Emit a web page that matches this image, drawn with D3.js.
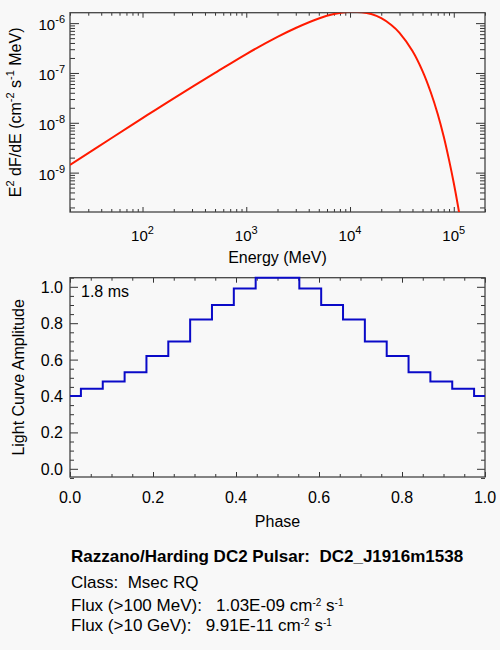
<!DOCTYPE html>
<html lang="en">
<head>
<meta charset="utf-8">
<title>DC2 pulsar</title>
<script src="https://cdn.jsdelivr.net/npm/d3@7"></script>
<style>
  body { margin: 0; padding: 0; background: #f8f8f8; }
  svg { display: block; font-family: "Liberation Sans", Arial, Helvetica, sans-serif; fill: #000; }
  .frame { fill: none; stroke: #444; stroke-width: 1.3; }
  .tick line { stroke: #333; stroke-width: 1; }
  .domain { display: none; }
</style>
</head>
<body>
<svg id="chart" width="500" height="650"></svg>
<script>
// spectrum: E^2 dF/dE (cm^-2 s^-1 MeV)
var energy = [20, 50, 100, 200, 500, 1000, 2000, 3000, 5000, 7000, 10000, 13000, 16000,
              20000, 25000, 30000, 40000, 50000, 60000, 70000, 80000, 90000, 100000, 110000, 120000];
var e2dfde = [1.42e-9, 4.9e-9, 1.24e-8, 3.1e-8, 1.0e-7, 2.4e-7, 5.3e-7, 8.0e-7, 1.24e-6, 1.52e-6, 1.69e-6, 1.66e-6, 1.52e-6,
              1.26e-6, 9.2e-7, 6.4e-7, 2.75e-7, 1.09e-7, 4.1e-8, 1.5e-8, 5.3e-9, 1.8e-9, 6.2e-10, 2.1e-10, 7e-11];

// light curve (histogram, 20 phase bins)
var phase = [0, 0.0526, 0.1053, 0.1579, 0.2105, 0.2632, 0.3158, 0.3684, 0.4211, 0.4737,
             0.5263, 0.5789, 0.6316, 0.6842, 0.7368, 0.7895, 0.8421, 0.8947, 0.9474, 1];
var amplitude = [0.40, 0.44, 0.48, 0.53, 0.62, 0.70, 0.82, 0.90, 0.99, 1.05,
                 1.05, 0.99, 0.90, 0.82, 0.70, 0.62, 0.53, 0.48, 0.44, 0.40];

// tick labels
var energyTicks = [1e2, 1e3, 1e4, 1e5];
var fluxTicks = [1e-9, 1e-8, 1e-7, 1e-6];
var phaseTicks = [0, 0.2, 0.4, 0.6, 0.8, 1.0];
var ampTicks = [0, 0.2, 0.4, 0.6, 0.8, 1.0];
var periodLabel = "1.8 ms";

var svg = d3.select("#chart");

// plot boxes
var left = 70, right = 485;
var top1 = 12.7, bottom1 = 212;
var top2 = 277.7, bottom2 = 477;

var xE = d3.scaleLog().domain([20, 2e5]).range([left, right]);
var yF = d3.scaleLog().domain([1.62e-10, 1.62e-6]).range([bottom1, top1]);
var xP = d3.scaleLinear().domain([0, 1]).range([left, right]);
var yA = d3.scaleLinear().domain([-0.045, 1.05]).range([bottom2, top2]);

function isDecade(v) {
  var l = Math.log10(v);
  return Math.abs(l - Math.round(l)) < 1e-6;
}

// draws inward ticks on all four sides
function box(x, y, x0, x1, y0, y1, xMajor, xMinor, yMajor, yMinor, xLen, yLen) {
  var g = svg.append("g");
  [[d3.axisBottom, y1, xMajor, xLen[0]], [d3.axisBottom, y1, xMinor, xLen[1]],
   [d3.axisTop, y0, xMajor, xLen[0]], [d3.axisTop, y0, xMinor, xLen[1]]].forEach(function(a) {
    g.append("g")
      .attr("transform", "translate(0," + a[1] + ")")
      .call(a[0](x).tickValues(a[2]).tickSize(-a[3]).tickSizeOuter(0).tickFormat(""));
  });
  [[d3.axisLeft, x0, yMajor, yLen[0]], [d3.axisLeft, x0, yMinor, yLen[1]],
   [d3.axisRight, x1, yMajor, yLen[0]], [d3.axisRight, x1, yMinor, yLen[1]]].forEach(function(a) {
    g.append("g")
      .attr("transform", "translate(" + a[1] + ",0)")
      .call(a[0](y).tickValues(a[2]).tickSize(-a[3]).tickSizeOuter(0).tickFormat(""));
  });
  g.append("rect")
    .attr("class", "frame")
    .attr("x", x0).attr("y", y0)
    .attr("width", x1 - x0).attr("height", y1 - y0);
}

// ---- spectrum panel ----
var eMinor = xE.ticks().filter(function(v) { return !isDecade(v); });
var fMinor = yF.ticks().filter(function(v) { return !isDecade(v); });
box(xE, yF, left, right, top1, bottom1, energyTicks, eMinor, fluxTicks, fMinor, [5, 3], [9, 5]);

svg.append("clipPath").attr("id", "clip1")
  .append("rect").attr("x", left).attr("y", top1)
  .attr("width", right - left).attr("height", bottom1 - top1);

var spec = energy.map(function(e, i) { return [e, e2dfde[i]]; });
svg.append("path")
  .attr("clip-path", "url(#clip1)")
  .attr("fill", "none")
  .attr("stroke", "#ff1a00")
  .attr("stroke-width", 2)
  .attr("d", d3.line()
    .x(function(d) { return xE(d[0]); })
    .y(function(d) { return yF(d[1]); })
    .curve(d3.curveCatmullRom.alpha(0.5))(spec));

// log labels 10^n
energyTicks.forEach(function(v) {
  var t = svg.append("text")
    .attr("x", xE(v)).attr("y", 241)
    .attr("text-anchor", "middle")
    .style("font-size", "15px");
  t.append("tspan").text("10");
  t.append("tspan").attr("dy", -7).style("font-size", "11px").text(Math.round(Math.log10(v)));
});
fluxTicks.forEach(function(v) {
  var t = svg.append("text")
    .attr("x", 65).attr("y", yF(v) + 7)
    .attr("text-anchor", "end")
    .style("font-size", "15px");
  t.append("tspan").text("10");
  t.append("tspan").attr("dy", -7).style("font-size", "11px").text(Math.round(Math.log10(v)));
});

svg.append("text")
  .attr("x", (left + right) / 2).attr("y", 263)
  .attr("text-anchor", "middle")
  .style("font-size", "16px")
  .text("Energy (MeV)");

var yt = svg.append("text")
  .attr("transform", "translate(21," + (top1 + bottom1) / 2 + ") rotate(-90)")
  .attr("text-anchor", "middle")
  .style("font-size", "16px");
yt.append("tspan").text("E");
yt.append("tspan").attr("dy", -7).style("font-size", "11px").text("2");
yt.append("tspan").attr("dy", 7).text(" dF/dE (cm");
yt.append("tspan").attr("dy", -7).style("font-size", "11px").text("-2");
yt.append("tspan").attr("dy", 7).text(" s");
yt.append("tspan").attr("dy", -7).style("font-size", "11px").text("-1");
yt.append("tspan").attr("dy", 7).text(" MeV)");

// ---- light curve panel ----
var pMinor = d3.range(0, 1.0001, 0.05).filter(function(v) { return Math.abs(v * 5 - Math.round(v * 5)) > 1e-6; });
var aMinor = d3.range(-0.05, 1.0501, 0.05).filter(function(v) { return Math.abs(v * 5 - Math.round(v * 5)) > 1e-6; });
box(xP, yA, left, right, top2, bottom2, phaseTicks, pMinor, ampTicks, aMinor, [5, 3], [8, 4]);

var lc = phase.map(function(p, i) { return [p, amplitude[i]]; });
svg.append("path")
  .attr("fill", "none")
  .attr("stroke", "#0a0ac8")
  .attr("stroke-width", 2)
  .attr("d", d3.line()
    .x(function(d) { return xP(d[0]); })
    .y(function(d) { return yA(d[1]); })
    .curve(d3.curveStep)(lc));

phaseTicks.forEach(function(v) {
  svg.append("text")
    .attr("x", xP(v)).attr("y", 503)
    .attr("text-anchor", "middle")
    .style("font-size", "16px")
    .text(v.toFixed(1));
});
ampTicks.forEach(function(v) {
  svg.append("text")
    .attr("x", 63).attr("y", yA(v) + 6)
    .attr("text-anchor", "end")
    .style("font-size", "16px")
    .text(v.toFixed(1));
});

svg.append("text")
  .attr("x", 81).attr("y", 297)
  .style("font-size", "16px")
  .text(periodLabel);

svg.append("text")
  .attr("x", (left + right) / 2).attr("y", 527)
  .attr("text-anchor", "middle")
  .style("font-size", "16px")
  .text("Phase");

svg.append("text")
  .attr("transform", "translate(24," + (top2 + bottom2) / 2 + ") rotate(-90)")
  .attr("text-anchor", "middle")
  .style("font-size", "16px")
  .text("Light Curve Amplitude");

// ---- info block ----
svg.append("text")
  .attr("x", 71).attr("y", 562)
  .attr("xml:space", "preserve")
  .style("font-size", "17px").style("font-weight", "bold")
  .text("Razzano/Harding DC2 Pulsar:  DC2_J1916m1538");

svg.append("text")
  .attr("x", 71).attr("y", 588)
  .attr("xml:space", "preserve")
  .style("font-size", "17px")
  .text("Class:  Msec RQ");

function fluxLine(label, value, y) {
  var t = svg.append("text")
    .attr("x", 71).attr("y", y)
    .attr("xml:space", "preserve")
    .style("font-size", "17px");
  t.append("tspan").text(label + "   " + value + " cm");
  t.append("tspan").attr("dy", -5).style("font-size", "10px").text("-2");
  t.append("tspan").attr("dy", 5).text(" s");
  t.append("tspan").attr("dy", -5).style("font-size", "10px").text("-1");
}
fluxLine("Flux (>100 MeV):", "1.03E-09", 611);
fluxLine("Flux (>10 GeV):", "9.91E-11", 631);
</script>
</body>
</html>
